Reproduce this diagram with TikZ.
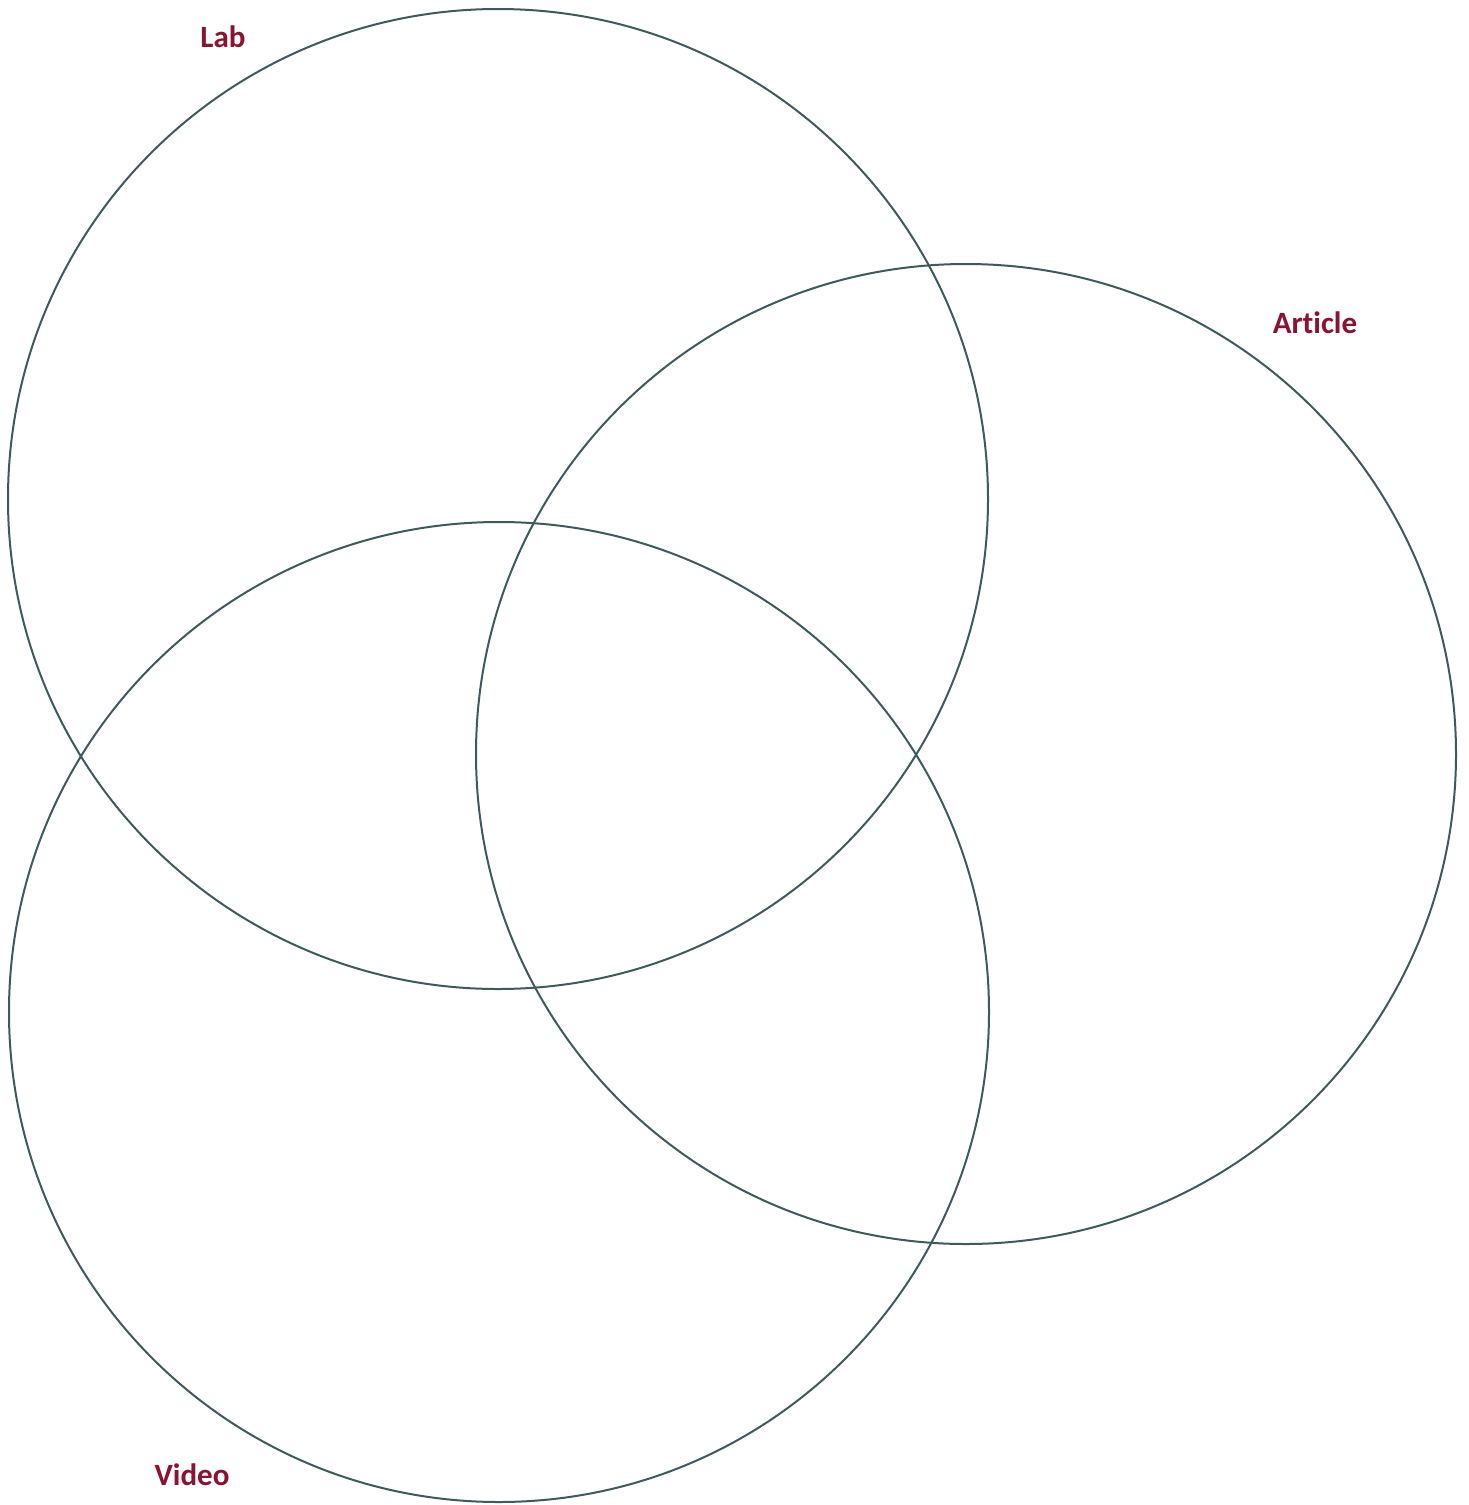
\documentclass[tikz,border=0pt]{standalone}
\usepackage{fontspec}
\setmainfont[Ligatures=NoCommon]{Carlito}
\definecolor{ringgray}{HTML}{3F5A5D}
\definecolor{labelred}{HTML}{8C1232}
\begin{document}
\begin{tikzpicture}[x=1pt, y=-1pt, line cap=round, line join=round,
  ring/.style={circle, draw=ringgray, line width=2pt, minimum size=980pt, inner sep=0pt},
  setname/.style={text=labelred, font=\bfseries\fontsize{31}{36}\selectfont, inner sep=0pt}]
  \useasboundingbox (0,0) rectangle (1468,1505);

  % Circle centres
  \coordinate (Clab) at (498, 499);
  \coordinate (Cart) at (966, 754);
  \coordinate (Cvid) at (499, 1012);

  % Circles
  \node[ring] (lab) at (Clab) {};
  \node[ring] (article) at (Cart) {};
  \node[ring] (video) at (Cvid) {};

  % Labels
  \node[setname] (lablab) at (223, 37) {Lab};
  \node[setname] (labart) at (1315, 323) {Article};
  \node[setname] (labvid) at (192, 1475) {Video};
\end{tikzpicture}
\end{document}
